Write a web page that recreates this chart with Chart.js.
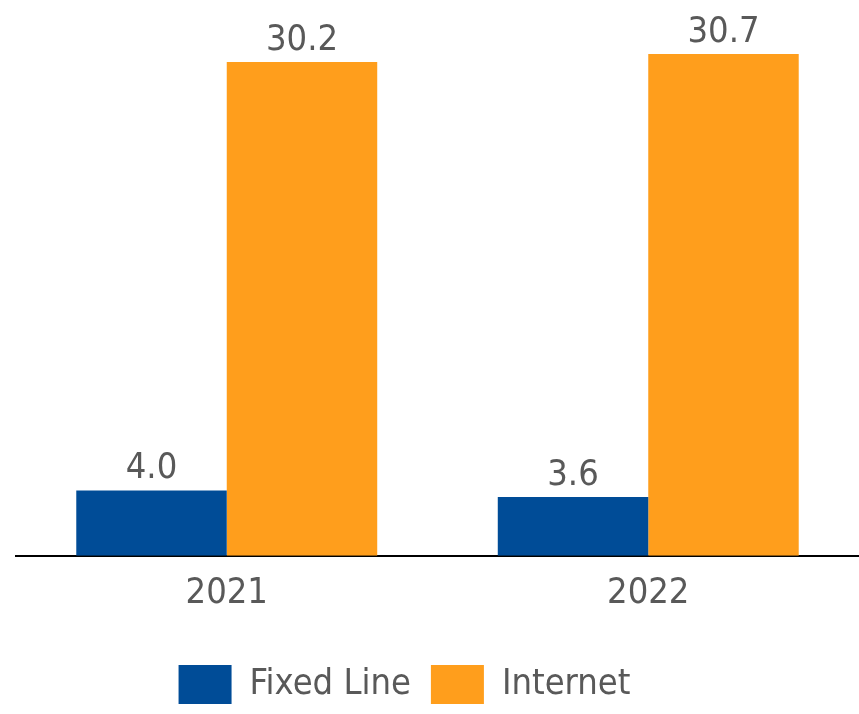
<!DOCTYPE html>
<html>
<head>
<meta charset="utf-8">
<script src="https://cdn.jsdelivr.net/npm/chart.js@4/dist/chart.umd.min.js"></script>
<style>
  html, body { margin: 0; padding: 0; background: #fff; }
  #wrap { width: 859px; height: 714px; }
</style>
</head>
<body>
<div id="wrap"><canvas id="usageChart"></canvas></div>
<script>
// Chart data
const years = ['2021', '2022'];
const fixedLine = [4.0, 3.6];
const internet = [30.2, 30.7];

const FONT = "'DejaVu Sans Condensed', 'DejaVu Sans', sans-serif";
const TEXT = '#595959';

// Value labels above each bar
const barLabels = {
    id: 'barLabels',
    afterDatasetsDraw(chart) {
        const ctx = chart.ctx;
        ctx.save();
        ctx.font = '36px ' + FONT;
        ctx.fillStyle = TEXT;
        ctx.textAlign = 'center';
        ctx.textBaseline = 'alphabetic';
        chart.data.datasets.forEach((ds, i) => {
            chart.getDatasetMeta(i).data.forEach((bar, j) => {
                ctx.fillText(ds.data[j].toFixed(1), bar.x, bar.y - 12);
            });
        });
        ctx.restore();
    }
};

// Legend sits a bit left of centre in the original
const legendShift = {
    id: 'legendShift',
    afterLayout(chart) {
        if (chart.legend) {
            chart.legend.left -= 33;
            chart.legend.right -= 33;
        }
    }
};

document.addEventListener('DOMContentLoaded', function() {
    const ctx = document.getElementById('usageChart').getContext('2d');

    new Chart(ctx, {
        type: 'bar',
        data: {
            labels: years,
            datasets: [{
                label: 'Fixed Line',
                data: fixedLine,
                backgroundColor: '#004C97'
            }, {
                label: 'Internet',
                data: internet,
                backgroundColor: '#FF9E1C'
            }]
        },
        options: {
            responsive: true,
            maintainAspectRatio: false,
            animation: false,
            categoryPercentage: 0.714,
            barPercentage: 1.0,
            layout: {
                padding: { left: 16, right: 0, top: 0, bottom: 0 }
            },
            plugins: {
                legend: {
                    position: 'bottom',
                    labels: {
                        boxWidth: 53,
                        boxHeight: 39,
                        padding: 20,
                        color: TEXT,
                        font: { family: FONT, size: 36 }
                    }
                },
                tooltip: { enabled: false }
            },
            scales: {
                y: {
                    display: false,
                    min: 0,
                    max: 34
                },
                x: {
                    grid: { display: false },
                    border: { display: true, color: '#000', width: 2 },
                    ticks: {
                        color: TEXT,
                        padding: 8,
                        font: { family: FONT, size: 36 }
                    },
                    // extra room between year labels and legend
                    afterFit(scale) {
                        scale.height += 22;
                    }
                }
            }
        },
        plugins: [barLabels, legendShift]
    });
});
</script>
</body>
</html>
